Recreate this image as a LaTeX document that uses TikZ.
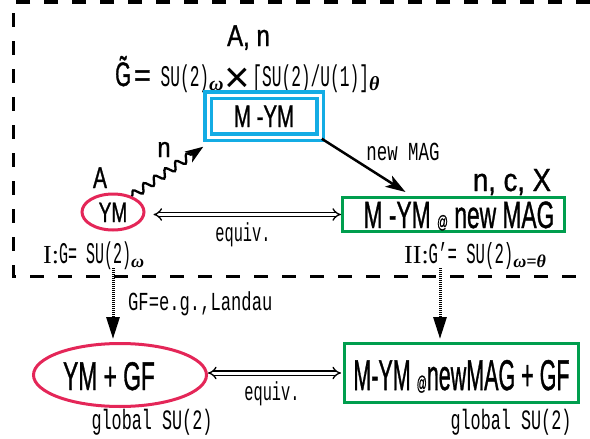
\documentclass[tikz,border=0pt]{standalone}
\usepackage{fontspec}
\setmainfont{Liberation Sans}
\setmonofont{Liberation Mono}
\newfontfamily\serf{Liberation Serif}
\newfontfamily\sfm{Liberation Sans}[FakeBold=1.2]
\usetikzlibrary{arrows.meta,decorations.pathmorphing,calc,shapes.geometric}
\definecolor{cyanc}{RGB}{20,172,228}
\definecolor{redc}{RGB}{228,38,88}
\definecolor{greenc}{RGB}{0,158,78}
\newcommand{\fs}[1]{\fontsize{#1}{#1}\selectfont}
\newcommand{\sfx}[3]{\scalebox{#2}[1]{\fs{#1}\sfm #3}}
\newcommand{\mtx}[3]{\scalebox{#2}[1]{\fs{#1}\ttfamily #3}}
\newcommand{\grk}[2]{\raisebox{-4pt}{\fs{#1}\serf\bfseries\itshape #2}}
\begin{document}
\begin{tikzpicture}[x=1pt,y=-1pt,
  lbl/.style={inner sep=0pt, anchor=base},
  cybox/.style={draw=cyanc, double=white, double distance=3pt, line width=3.5pt, inner sep=0pt, text depth=0pt},
  redell/.style={draw=redc, ellipse, line width=3pt, inner sep=0pt, text depth=0pt},
  grbox/.style={draw=greenc, rectangle, line width=3pt, inner sep=0pt, text depth=0pt},
  frame/.style={line width=3pt, dash pattern=on 14pt off 14pt},
  eqv/.style={double, double distance=3pt, line width=1.3pt, arrows={Implies[length=6pt,width=16pt]-Implies[length=6pt,width=16pt]}},
  arr/.style={line width=2.5pt, -{Stealth[length=20pt,width=13pt,inset=5pt]}},
  wavy/.style={line width=2.3pt, decorate, decoration={snake, amplitude=4pt, segment length=13pt, post length=12pt}, -{Stealth[length=18pt,width=13pt,inset=5pt]}},
  dotarr/.style={line width=3pt, dash pattern=on 1pt off 1pt, -{Triangle[length=22pt,width=13pt]}, shorten >=3pt}]
\useasboundingbox (0,0) rectangle (590,439);
\draw[frame] (590,2) -- (13,2) -- (13,276) -- (590,276);

% top part
\node[lbl] (an) at (248.5,46) {\sfx{30}{0.8}{A, n}};
\node[lbl, anchor=base west] (gt) at (115,86) {\sfx{34}{0.6}{\~G}\hspace{3pt}\sfx{32}{0.9}{=}\mtx{30}{0.54}{ SU(2)}\grk{20}{ω}\hspace{1pt}\raisebox{-6.5pt}{\fs{44}×}\hspace{2pt}\mtx{30}{0.54}{[SU(2)/U(1)]}\grk{20}{θ}};
\node[cybox, minimum width=112pt, minimum height=42pt, text height=22pt] (mym) at (264,116) {\sfx{31}{0.66}{M -YM}};

\node[redell, minimum width=62pt, minimum height=36pt, text height=20pt] (ym) at (113,212) {\sfx{28}{0.68}{YM}};
\node[lbl] (a) at (100,188) {\sfx{30}{0.7}{A}};
\node[lbl] (n) at (164,157) {\sfx{28}{0.85}{n}};

\node[grbox, minimum width=222pt, minimum height=34pt, text height=27pt] (g1) at (453.5,214.5) {\hspace*{11pt}\sfx{38}{0.6}{M -YM {\fs{18}@} new MAG}};
\node[lbl] (ncx) at (512,191) {\sfx{32}{0.86}{n, c, X}};
\node[lbl] (nm) at (403,160) {\mtx{26}{0.67}{new MAG}};
\node[lbl] (eq1) at (243,241) {\mtx{26}{0.59}{equiv.}};
\node[lbl, anchor=base west] (l1) at (43,263) {{\serf\fs{26}I:}\mtx{30}{0.5}{G= SU(2)}\grk{18}{ω}};
\node[lbl, anchor=base west] (l2) at (404,263) {{\serf\fs{26}II:}\mtx{29}{0.54}{G’= SU(2)}\grk{18}{ω=θ}};

% bottom part
\node[lbl, anchor=base west] (gfl) at (128,310) {\mtx{26}{0.66}{GF=e.g.,Landau}};
\node[redell, minimum width=173pt, minimum height=63pt, text height=30pt] (ym2) at (120,375) {\sfx{40}{0.57}{YM + GF}\hspace*{22pt}};
\node[lbl] (eq2) at (272,400) {\mtx{26}{0.59}{equiv.}};
\node[grbox, minimum width=234pt, minimum height=59pt, text height=34pt] (g2) at (461.5,373) {\sfx{43}{0.5}{M-YM {\fs{20}@}newMAG + GF}};
\node[lbl] (gs1) at (152,429) {\mtx{28}{0.6}{global SU(2)}};
\node[lbl] (gs2) at (511,429) {\mtx{28}{0.6}{global SU(2)}};

% connectors
\draw[wavy] (ym.40) -- ([xshift=-3pt,yshift=-8pt]mym.south west);
\draw[arr] (mym.south east) -- ([xshift=64.5pt,yshift=4pt]g1.north west);
\draw[eqv, shorten <=8pt] (ym.east |- g1.west) -- (g1.west);
\coordinate (d1) at (113,268);
\coordinate (d2) at (440,268);
\draw[dotarr] (d1) -- (d1 |- ym2.north);
\draw[dotarr] (d2) -- (d2 |- g2.north);
\draw[eqv, shorten >=2pt] (ym2.east |- g2.west) -- (g2.west);
\end{tikzpicture}
\end{document}
